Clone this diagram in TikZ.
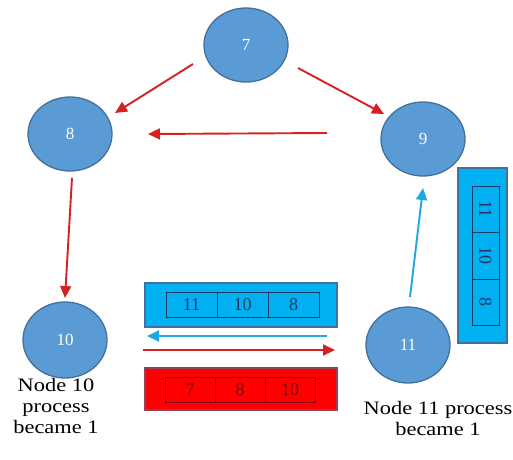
\documentclass[tikz,border=0pt]{standalone}
\usepackage{fontspec}
\setmainfont{Liberation Serif}
\usetikzlibrary{shapes.geometric,arrows.meta}
\definecolor{ellfill}{HTML}{5B9BD5}
\definecolor{elldraw}{HTML}{41719C}
\definecolor{arrred}{HTML}{D42222}
\definecolor{arrblue}{HTML}{1EA8DF}
\definecolor{boxblue}{HTML}{00B0F0}
\definecolor{cellb}{HTML}{1F3864}
\definecolor{boxred}{HTML}{FF0000}
\definecolor{cellr}{HTML}{7A0A0A}
\newcommand{\hs}[1]{\scalebox{1.18}[1]{#1}}
\begin{document}
\begin{tikzpicture}[x=1pt,y=-1pt,
  proc/.style={ellipse, draw=elldraw, line width=1.3pt, fill=ellfill,
    minimum width=84pt, minimum height=74pt, inner sep=0pt, text=white,
    font=\fontsize{17}{17}\selectfont},
  redarr/.style={draw=arrred, line width=1.9pt, -{Triangle[length=12pt,width=11pt]}},
  bluearr/.style={draw=arrblue, line width=1.9pt, -{Triangle[length=12pt,width=11pt]}},
  bframe/.style={rectangle, draw=elldraw, fill=boxblue, line width=1.5pt, inner sep=0pt},
  rframe/.style={rectangle, draw=elldraw!60!red, fill=boxred, line width=1.5pt, inner sep=0pt},
  bcell/.style={rectangle, draw=cellb, line width=1pt, inner sep=0pt, text=cellb,
    font=\fontsize{18}{18}\selectfont},
  rcell/.style={rectangle, draw=cellr, line width=1pt, inner sep=0pt, text=cellr,
    font=\fontsize{18}{18}\selectfont},
  lbl/.style={align=center, inner sep=0pt, font=\fontsize{19}{21}\selectfont}
]
\useasboundingbox (0,0) rectangle (513,459);
\fill[white] (0,0) rectangle (513,459);

% processes
\node[proc] (n7) at (246,45) {7};
\node[proc] (n8) at (70,134) {8};
\node[proc] (n9) at (423,139) {9};
\node[proc, minimum height=76pt] (n10) at (65,340) {10};
\node[proc, minimum height=76pt] (n11) at (408,345) {11};

% arrows
\draw[redarr] ([shift={(-53,19)}]n7.center) -- ([shift={(45,-21)}]n8.center);
\draw[redarr] ([shift={(52,23)}]n7.center) -- ([shift={(-39,-25)}]n9.center);
\draw[redarr] ([shift={(-96,-6)}]n9.center) -- ([shift={(78,0)}]n8.center);
\draw[redarr] ([shift={(2,44)}]n8.center) -- ([shift={(0,-42)}]n10.center);
\draw[bluearr] ([shift={(2,-48)}]n11.center) -- ([shift={(0,49)}]n9.center);
\draw[bluearr] ([shift={(-81,-9)}]n11.center) -- ([shift={(82,-4)}]n10.center);
\draw[redarr] ([shift={(78,10)}]n10.center) -- ([shift={(-73,5)}]n11.center);

% blue message (top)
\node[bframe, minimum width=192pt, minimum height=44pt] (bq) at (241,305) {};
\node[bcell, minimum width=51pt, minimum height=25pt] (b1) at (191.5,304.5) {11};
\node[bcell, minimum width=51pt, minimum height=25pt] (b2) at (242.5,304.5) {10};
\node[bcell, minimum width=51pt, minimum height=25pt] (b3) at (293.5,304.5) {8};

% red message
\node[rframe, minimum width=192pt, minimum height=42pt] (rq) at (241,389) {};
\node[rcell, minimum width=50pt, minimum height=25pt] (r1) at (190,389.5) {7};
\node[rcell, minimum width=50pt, minimum height=25pt] (r2) at (240,389.5) {8};
\node[rcell, minimum width=50pt, minimum height=25pt] (r3) at (290,389.5) {10};

% vertical blue message
\node[bframe, minimum width=49pt, minimum height=175pt] (vq) at (482.5,255.5) {};
\node[bcell, minimum width=27pt, minimum height=46.5pt] (v1) at (485.5,209.25) {\rotatebox{-90}{11}};
\node[bcell, minimum width=27pt, minimum height=46.5pt] (v2) at (485.5,255.75) {\rotatebox{-90}{10}};
\node[bcell, minimum width=27pt, minimum height=46.5pt] (v3) at (485.5,302.25) {\rotatebox{-90}{8}};

% labels
\node[lbl] (t10) at (56,406) {\hs{Node 10}\\\hs{process}\\\hs{became 1}};
\node[lbl] (t11) at (438,418) {\hs{Node 11 process}\\\hs{became 1}};
\end{tikzpicture}
\end{document}
